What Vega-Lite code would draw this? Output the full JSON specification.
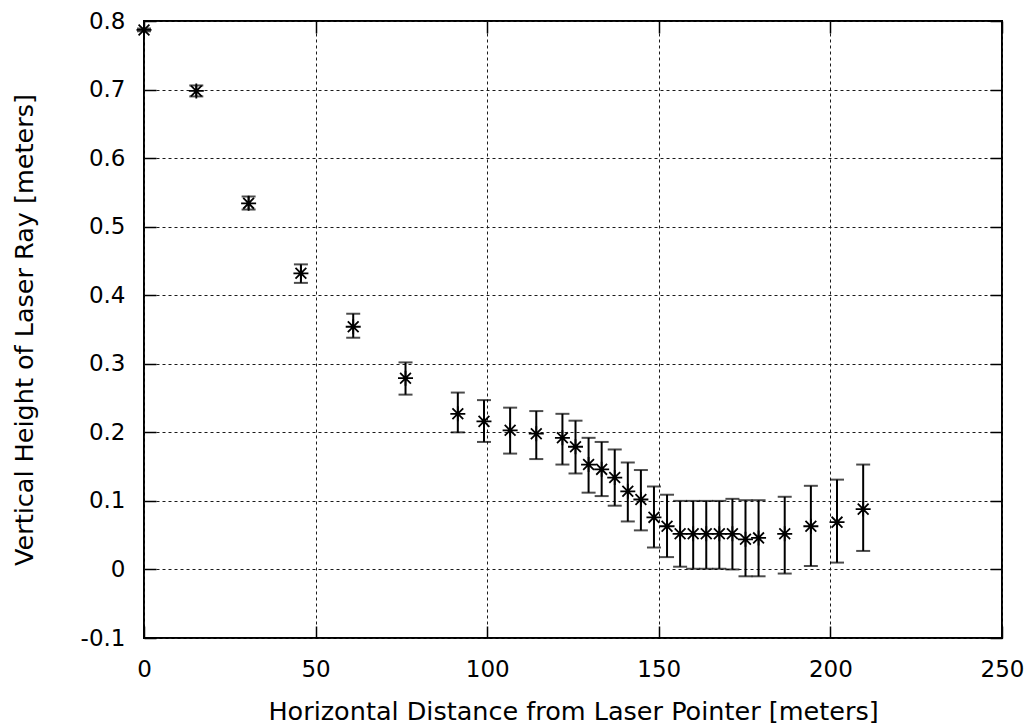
{
  "$schema": "https://vega.github.io/schema/vega-lite/v6.json",
  "width": 858,
  "height": 617,
  "autosize": {"type": "none"},
  "padding": {"left": 144, "top": 21, "right": 29, "bottom": 90},
  "background": "white",
  "config": {
    "view": {"stroke": "black", "strokeWidth": 2},
    "axis": {
      "labelFont": "DejaVu Sans",
      "titleFont": "DejaVu Sans",
      "labelColor": "black",
      "titleColor": "black",
      "titleFontWeight": "normal",
      "domain": false,
      "grid": true,
      "gridColor": "#1a1a1a",
      "gridDash": [3, 3],
      "gridWidth": 1,
      "gridOpacity": 1,
      "tickColor": "black",
      "tickWidth": 1.5,
      "tickSize": -12,
      "labelFlush": false
    }
  },
  "resolve": {"axis": {"x": "independent", "y": "independent"}},
  "data": {
    "values": [
      {"x": 0, "y": 0.787, "lo": 0.785, "hi": 0.789},
      {"x": 15.24, "y": 0.698, "lo": 0.690, "hi": 0.706},
      {"x": 30.48, "y": 0.534, "lo": 0.525, "hi": 0.544},
      {"x": 45.72, "y": 0.432, "lo": 0.418, "hi": 0.445},
      {"x": 60.96, "y": 0.354, "lo": 0.338, "hi": 0.373},
      {"x": 76.2, "y": 0.279, "lo": 0.255, "hi": 0.302},
      {"x": 91.44, "y": 0.227, "lo": 0.200, "hi": 0.258},
      {"x": 99.06, "y": 0.216, "lo": 0.186, "hi": 0.247},
      {"x": 106.68, "y": 0.203, "lo": 0.169, "hi": 0.236},
      {"x": 114.3, "y": 0.198, "lo": 0.161, "hi": 0.231},
      {"x": 121.92, "y": 0.192, "lo": 0.153, "hi": 0.227},
      {"x": 125.73, "y": 0.179, "lo": 0.140, "hi": 0.217},
      {"x": 129.54, "y": 0.153, "lo": 0.112, "hi": 0.192},
      {"x": 133.35, "y": 0.146, "lo": 0.107, "hi": 0.186},
      {"x": 137.16, "y": 0.134, "lo": 0.093, "hi": 0.175},
      {"x": 140.97, "y": 0.114, "lo": 0.070, "hi": 0.156},
      {"x": 144.78, "y": 0.102, "lo": 0.057, "hi": 0.145},
      {"x": 148.59, "y": 0.076, "lo": 0.032, "hi": 0.121},
      {"x": 152.4, "y": 0.063, "lo": 0.018, "hi": 0.109},
      {"x": 156.21, "y": 0.052, "lo": 0.004, "hi": 0.100},
      {"x": 160.02, "y": 0.052, "lo": 0.001, "hi": 0.100},
      {"x": 163.83, "y": 0.052, "lo": 0.001, "hi": 0.100},
      {"x": 167.64, "y": 0.052, "lo": 0.001, "hi": 0.100},
      {"x": 171.45, "y": 0.052, "lo": 0.000, "hi": 0.103},
      {"x": 175.26, "y": 0.044, "lo": -0.010, "hi": 0.101},
      {"x": 179.07, "y": 0.046, "lo": -0.010, "hi": 0.101},
      {"x": 186.69, "y": 0.052, "lo": -0.006, "hi": 0.106},
      {"x": 194.31, "y": 0.063, "lo": 0.005, "hi": 0.122},
      {"x": 201.93, "y": 0.069, "lo": 0.010, "hi": 0.131},
      {"x": 209.55, "y": 0.088, "lo": 0.027, "hi": 0.153}
    ]
  },
  "layer": [
    {
      "mark": {"type": "rule", "color": "black", "strokeWidth": 2},
      "encoding": {
        "x": {
          "field": "x",
          "type": "quantitative",
          "scale": {"domain": [0, 250], "nice": false, "zero": false},
          "axis": {
            "values": [0, 50, 100, 150, 200, 250],
            "title": "Horizontal Distance from Laser Pointer [meters]",
            "labelFontSize": 23,
            "titleFontSize": 25.5,
            "labelPadding": 32,
            "titlePadding": 18
          }
        },
        "y": {
          "field": "lo",
          "type": "quantitative",
          "scale": {"domain": [-0.1, 0.8], "nice": false, "zero": false},
          "axis": {
            "values": [-0.1, 0, 0.1, 0.2, 0.3, 0.4, 0.5, 0.6, 0.7, 0.8],
            "labelExpr": "datum.value == 0 ? '0' : replace(format(datum.value, '.1f'), '\u2212', '-')",
            "title": "Vertical Height of Laser Ray [meters]",
            "labelFontSize": 23,
            "titleFontSize": 25.5,
            "labelPadding": 31,
            "titlePadding": 43
          }
        },
        "y2": {"field": "hi"}
      }
    },
    {
      "mark": {"type": "tick", "orient": "horizontal", "color": "black", "size": 14, "thickness": 2},
      "encoding": {
        "x": {"field": "x", "type": "quantitative", "axis": null},
        "y": {"field": "lo", "type": "quantitative", "axis": null}
      }
    },
    {
      "mark": {"type": "tick", "orient": "horizontal", "color": "black", "size": 14, "thickness": 2},
      "encoding": {
        "x": {"field": "x", "type": "quantitative", "axis": null},
        "y": {"field": "hi", "type": "quantitative", "axis": null}
      }
    },
    {
      "mark": {
        "type": "point",
        "shape": "M-1,0L1,0M0,-1L0,1M-0.72,-0.72L0.72,0.72M-0.72,0.72L0.72,-0.72",
        "filled": false,
        "stroke": "black",
        "strokeWidth": 1.8,
        "opacity": 1,
        "size": 225
      },
      "encoding": {
        "x": {
          "field": "x",
          "type": "quantitative",
          "axis": {"orient": "top", "values": [0, 50, 100, 150, 200, 250], "labels": false, "title": null, "grid": false}
        },
        "y": {
          "field": "y",
          "type": "quantitative",
          "axis": {"orient": "right", "values": [-0.1, 0, 0.1, 0.2, 0.3, 0.4, 0.5, 0.6, 0.7, 0.8], "labels": false, "title": null, "grid": false}
        }
      }
    }
  ]
}
